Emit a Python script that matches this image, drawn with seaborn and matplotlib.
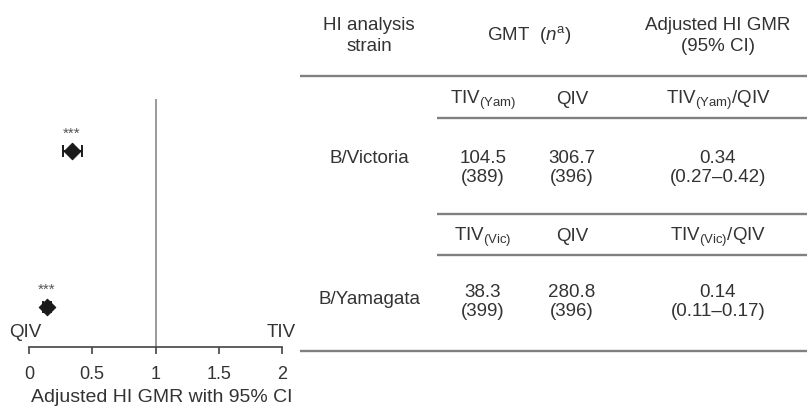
import numpy as np
import pandas as pd
import matplotlib
matplotlib.use("Agg")
import matplotlib.pyplot as plt
import seaborn as sns

# Study data: HI GMT per vaccine group and adjusted GMR (TIV/QIV) with 95% CI
strains = ["B/Victoria", "B/Yamagata"]
tiv_labels = ["Yam", "Vic"]
gmt_tiv = [104.5, 38.3]
n_tiv = [389, 399]
gmt_qiv = [306.7, 280.8]
n_qiv = [396, 396]
gmr = [0.34, 0.14]
ci_low = [0.27, 0.11]
ci_high = [0.42, 0.17]
signif = ["***", "***"]
x_ticks = [0, 0.5, 1, 1.5, 2]
x_tick_labels = ["0", "0.5", "1", "1.5", "2"]

sns.set_style("white")
plt.rcParams["font.family"] = ["Liberation Sans", "DejaVu Sans"]
plt.rcParams["mathtext.fontset"] = "custom"
plt.rcParams["mathtext.rm"] = "Liberation Sans"
plt.rcParams["mathtext.it"] = "Liberation Sans:italic"

TXT = "#333333"
RULE = "#808080"
FS = 13.5

W, H = 807, 410
fig = plt.figure(figsize=(W / 100, H / 100), dpi=100)

# ---- forest plot -------------------------------------------------------
ax = fig.add_axes([29 / W, (H - 348) / H, (282 - 29) / W, 248 / H])
df = pd.DataFrame({"strain": strains, "gmr": gmr, "lo": ci_low, "hi": ci_high})
df["row"] = np.arange(len(df))[::-1]

ax.axvline(1, color="#9a9a9a", lw=1.4, zorder=1)
ax.errorbar(df["gmr"], df["row"],
            xerr=[df["gmr"] - df["lo"], df["hi"] - df["gmr"]],
            fmt="none", ecolor="#1a1a1a", elinewidth=1.4, capsize=4,
            capthick=1.4, zorder=2)
sns.scatterplot(data=df, x="gmr", y="row", marker="D", s=70,
                color="#1a1a1a", edgecolor="#1a1a1a", linewidth=0.8,
                legend=False, ax=ax, zorder=3)
for g, r, s in zip(df["gmr"], df["row"], signif):
    ax.annotate(s, (g, r), xytext=(0, 13), textcoords="offset points",
                ha="center", va="center", fontsize=11, color="#555555")

ax.set_xlim(0, 2)
ax.set_ylim(-0.256, 1.334)
ax.set_xticks(x_ticks)
ax.set_xticklabels(x_tick_labels)
ax.set_yticks([])
ax.set_ylabel("")
ax.set_xlabel("Adjusted HI GMR with 95% CI", fontsize=14, color=TXT)
ax.xaxis.set_label_coords(0.525, -0.167)
ax.tick_params(axis="x", direction="out", length=5, width=1.2,
               colors="#444444", labelsize=13, labelcolor=TXT, pad=8,
               bottom=True)
for side in ["top", "right", "left"]:
    ax.spines[side].set_visible(False)
ax.spines["bottom"].set_color("#444444")
ax.spines["bottom"].set_linewidth(1.2)
ax.patch.set_visible(False)

ax.text(-0.03, -0.157, "QIV", ha="center", va="center", fontsize=FS,
        color=TXT, clip_on=False)
ax.text(1.99, -0.157, "TIV", ha="center", va="center", fontsize=FS,
        color=TXT, clip_on=False)

# ---- results table -----------------------------------------------------
tb = fig.add_axes([0, 0, 1, 1])
tb.set_xlim(0, W)
tb.set_ylim(H, 0)
tb.axis("off")

col_strain, col_tiv, col_qiv, col_gmr = 369, 483, 572, 718

def rule(y, x0):
    tb.plot([x0, W], [y, y], color=RULE, lw=1.7, solid_capstyle="butt")

def txt(x, y, s, ls=1.2):
    tb.text(x, y, s, ha="center", va="center", fontsize=FS, color=TXT,
            linespacing=ls)

txt(col_strain, 36, "HI analysis\nstrain", ls=1.3)
txt(col_tiv + 46, 35, r"GMT  ($\mathit{n}^{\mathrm{a}}$)")
txt(col_gmr, 36, "Adjusted HI GMR\n(95% CI)", ls=1.3)
rule(77, 300)

row_top = [100, 237]
row_val = [168, 302]
row_name = [159, 300]
for i, name in enumerate(strains):
    sub = tiv_labels[i]
    y0 = row_top[i]
    txt(col_tiv, y0, r"TIV$_{\mathrm{(" + sub + r")}}$")
    txt(col_qiv, y0, "QIV")
    txt(col_gmr, y0, r"TIV$_{\mathrm{(" + sub + r")}}$/QIV")
    rule(y0 + 19, 437)
    yv = row_val[i]
    txt(col_strain, row_name[i], name)
    txt(col_tiv, yv, f"{gmt_tiv[i]:.1f}\n({n_tiv[i]})")
    txt(col_qiv, yv, f"{gmt_qiv[i]:.1f}\n({n_qiv[i]})")
    txt(col_gmr, yv, f"{gmr[i]:.2f}\n({ci_low[i]:.2f}\u2013{ci_high[i]:.2f})")

rule(215, 437)
rule(352, 300)

fig.savefig("out.png", dpi=100, facecolor="white")
